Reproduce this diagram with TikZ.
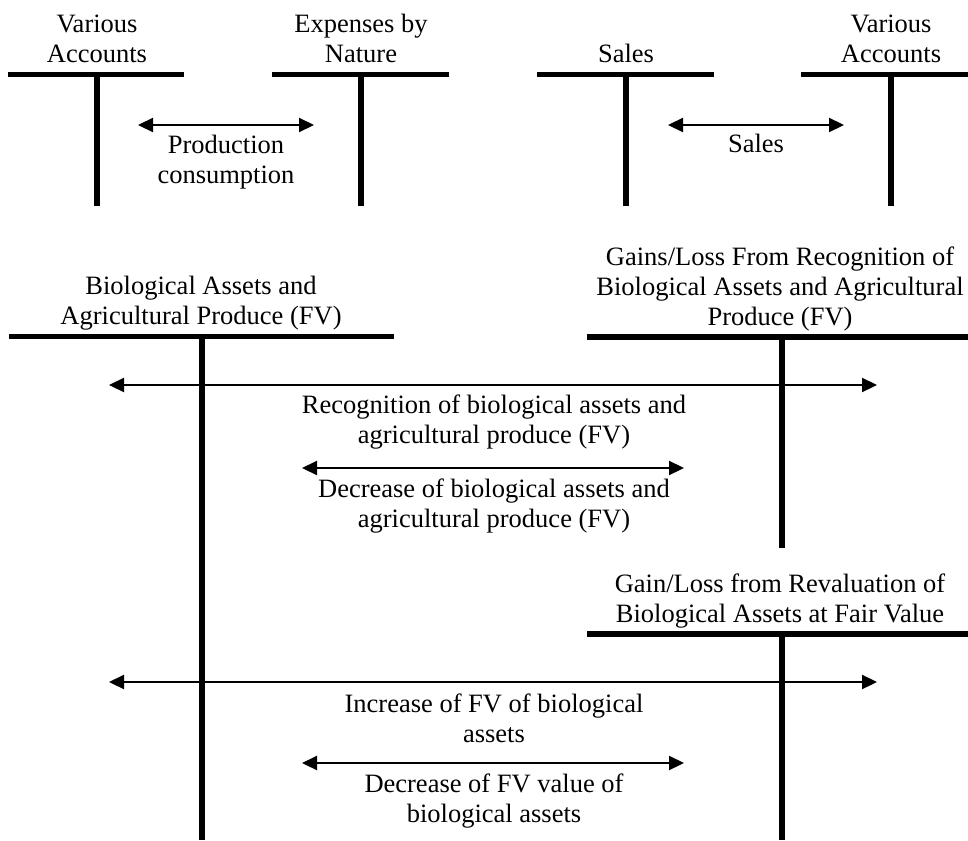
\documentclass[tikz,border=0pt]{standalone}
\usepackage{fontspec}
\setmainfont{Liberation Serif}
\usepackage{tikz}
\tikzset{
  acctname/.style={align=center, inner sep=0pt, anchor=base,
                   font=\fontsize{26.5}{30}\selectfont},
  flowtext/.style={align=center, inner sep=0pt, anchor=base,
                   font=\fontsize{26.5}{30}\selectfont},
  tbar/.style={line width=5.5pt},
  flow/.style={{Triangle[length=15pt,width=14pt]}-{Triangle[length=15pt,width=14pt]},
               line width=2.2pt}
}
\usetikzlibrary{positioning, arrows.meta}

\begin{document}
\begin{tikzpicture}[x=1pt, y=-1pt]
\useasboundingbox (0,0) rectangle (968,840);
% T-accounts: bar ends and stem ends
\coordinate (va1L) at (8,74.5);   \coordinate (va1R) at (184,74.5);
\coordinate (va1T) at (97,72);    \coordinate (va1B) at (97,206);
\coordinate (expL) at (272,74.5); \coordinate (expR) at (449,74.5);
\coordinate (expT) at (361,72);   \coordinate (expB) at (361,206);
\coordinate (salL) at (537,74.5); \coordinate (salR) at (714,74.5);
\coordinate (salT) at (626,72);   \coordinate (salB) at (626,206);
\coordinate (va2L) at (801,74.5); \coordinate (va2R) at (968,74.5);
\coordinate (va2T) at (891,72);   \coordinate (va2B) at (891,206);
\coordinate (bioL) at (9,336.5);  \coordinate (bioR) at (394,336.5);
\coordinate (bioT) at (202,334);  \coordinate (bioB) at (202,840);
\coordinate (recL) at (587,337);  \coordinate (recR) at (968,337);
\coordinate (recT) at (782,334);  \coordinate (recB) at (782,548);
\coordinate (revL) at (587,634);  \coordinate (revR) at (968,634);
\coordinate (revT) at (782,631);  \coordinate (revB) at (782,840);
\foreach \t in {va1,exp,sal,va2,bio,rec,rev} {
    \draw[tbar] (\t L) -- (\t R);
    \draw[tbar] (\t T) -- (\t B);
}
% account names
\node[acctname] (nva1) at (97,63) {Various\\Accounts};
\node[acctname] (nexp) at (361,63) {Expenses by\\Nature};
\node[acctname] (nsal) at (626,63) {Sales};
\node[acctname] (nva2) at (891,63) {Various\\Accounts};
\node[acctname] (nbio) at (201,324) {Biological Assets and\\Agricultural Produce (FV)};
\node[acctname] (nrec) at (780,325) {Gains/Loss From Recognition of\\Biological Assets and Agricultural\\Produce (FV)};
\node[acctname] (nrev) at (780,622) {Gain/Loss from Revaluation of\\Biological Assets at Fair Value};
% flows
\coordinate (pcL) at (138,125);   \coordinate (pcR) at (314,125);
\coordinate (slL) at (668,125);   \coordinate (slR) at (844,125);
\coordinate (rgL) at (109,385);   \coordinate (rgR) at (877,385);
\coordinate (dcL) at (302,468);   \coordinate (dcR) at (684,468);
\coordinate (inL) at (109,682);   \coordinate (inR) at (877,682);
\coordinate (dfL) at (302,763);   \coordinate (dfR) at (684,763);
\foreach \f in {pc,sl,rg,dc,in,df}
    \draw[flow] (\f L) -- (\f R);
\node[flowtext] (tpc) at (226,183) {Production\\consumption};
\node[flowtext] (tsl) at (756,152) {Sales};
\node[flowtext] (trg) at (494,443) {Recognition of biological assets and\\agricultural produce (FV)};
\node[flowtext] (tdc) at (494,527) {Decrease of biological assets and\\agricultural produce (FV)};
\node[flowtext] (tin) at (494,742) {Increase of FV of biological\\assets};
\node[flowtext] (tdf) at (494,822) {Decrease of FV value of\\biological assets};
\end{tikzpicture}
\end{document}
